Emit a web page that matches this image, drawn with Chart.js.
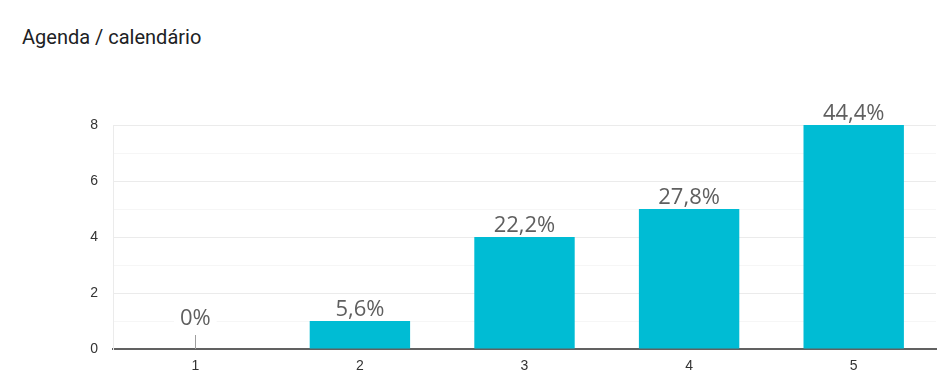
<!DOCTYPE html>
<html>
<head>
<meta charset="utf-8">
<script src="https://cdn.jsdelivr.net/npm/chart.js@4/dist/chart.umd.min.js"></script>
<style>
  html, body { margin: 0; padding: 0; background: #fff; }
  #wrap { position: relative; width: 943px; height: 388px; }
  #title { position: absolute; left: 22px; top: 25px; font: 20px Roboto, "Open Sans", sans-serif; color: #202124; }
  canvas { position: absolute; left: 0; top: 0; }
</style>
</head>
<body>
<div id="wrap">
  <div id="title">Agenda / calendário</div>
  <canvas id="c" width="943" height="388"></canvas>
</div>
<script>
// ── Data ──────────────────────────────────────────
const categories = ['1', '2', '3', '4', '5'];
const counts     = [0, 1, 4, 5, 8];
const percents   = ['0%', '5,6%', '22,2%', '27,8%', '44,4%'];
const yTicks     = [0, 2, 4, 6, 8];

// labels above bars, white box behind them
const barLabels = {
  id: 'barLabels',
  afterDatasetsDraw(chart) {
    const { ctx } = chart;
    const meta = chart.getDatasetMeta(0);
    ctx.save();
    ctx.font = '22px "Open Sans", sans-serif';
    ctx.textAlign = 'center';
    ctx.textBaseline = 'alphabetic';
    meta.data.forEach((bar, i) => {
      const zero = counts[i] === 0;
      const base = zero ? bar.y - 24 : bar.y - 5;
      const w = ctx.measureText(percents[i]).width;
      ctx.fillStyle = '#fff';
      ctx.fillRect(bar.x - w / 2 - 6, base - 19, w + 12, 23);
      if (zero) {
        ctx.strokeStyle = '#9e9e9e';
        ctx.lineWidth = 1;
        ctx.beginPath();
        ctx.moveTo(Math.round(bar.x) + 0.5, bar.y - 14);
        ctx.lineTo(Math.round(bar.x) + 0.5, bar.y);
        ctx.stroke();
      }
      ctx.fillStyle = '#5f5f5f';
      ctx.fillText(percents[i], bar.x, base);
    });
    ctx.restore();
  }
};

const tickFont = { size: 14, family: 'Arial, "Liberation Sans", sans-serif' };

new Chart(document.getElementById('c'), {
  type: 'bar',
  data: {
    labels: categories,
    datasets: [{
      data: counts,
      backgroundColor: '#00bcd4',
      borderWidth: 0,
      categoryPercentage: 1,
      barPercentage: 0.61,
    }],
  },
  options: {
    responsive: false,
    animation: false,
    layout: { padding: { top: 125, right: 7, left: 0, bottom: 0 } },
    plugins: { legend: { display: false }, tooltip: { enabled: false } },
    scales: {
      x: {
        grid: { display: false, drawTicks: false },
        border: { color: '#616161', width: 2 },
        ticks: { color: '#333', font: tickFont, padding: 9 },
        afterFit: s => { s.height = 39; },
      },
      y: {
        min: 0,
        max: 8,
        afterBuildTicks: s => { s.ticks = [0, 1, 2, 3, 4, 5, 6, 7, 8].map(v => ({ value: v })); },
        grid: {
          drawTicks: false,
          color: ctx => ctx.tick.value === 0 ? 'rgba(0,0,0,0)'
            : (yTicks.includes(ctx.tick.value) ? '#ebebeb' : '#f6f6f6'),
        },
        border: { color: '#ebebeb' },
        ticks: {
          color: '#333',
          font: tickFont,
          padding: 15,
          callback: v => yTicks.includes(v) ? v : '',
        },
        afterFit: s => { s.width = 113; },
      },
    },
  },
  plugins: [barLabels],
});
</script>
</body>
</html>
